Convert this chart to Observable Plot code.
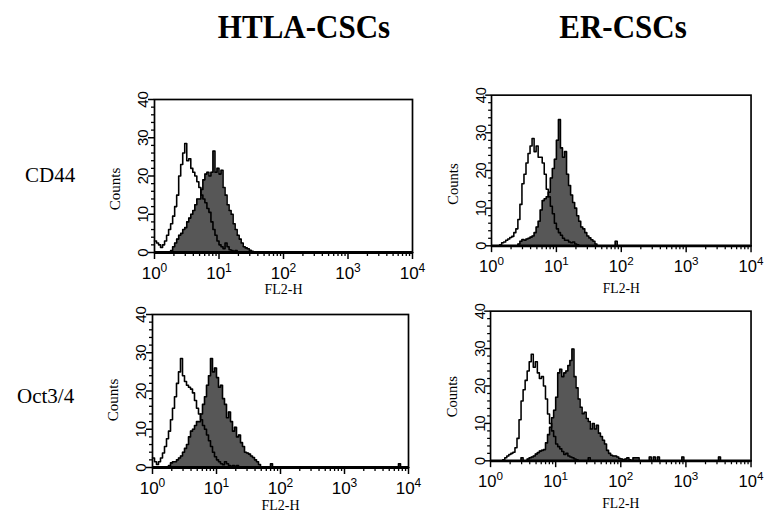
<!DOCTYPE html>
<html><head><meta charset="utf-8">
<script src="https://cdn.jsdelivr.net/npm/d3@7"></script>
<script src="https://cdn.jsdelivr.net/npm/@observablehq/plot@0.6"></script>
<style>
html,body{margin:0;padding:0;background:#fff;overflow:hidden;}
#page{position:relative;width:770px;height:518px;overflow:hidden;}
.title{position:absolute;font-family:"Liberation Serif","Times New Roman",serif;font-weight:bold;font-size:31px;line-height:1;color:#000;white-space:nowrap;transform:translateX(-50%) scaleY(1.12);transform-origin:50% 80%;}
.row{position:absolute;font-family:"Liberation Serif","Times New Roman",serif;font-size:21px;line-height:1;color:#000;white-space:nowrap;}
.panel{position:absolute;}
</style></head><body><div id="page"></div>
<script>
// ---- labels ----
const columnTitles = ["HTLA-CSCs", "ER-CSCs"];
const rowLabels = ["CD44", "Oct3/4"];
const xAxisTitle = "FL2-H";
const yAxisTitle = "Counts";
const countTicks = [0, 10, 20, 30, 40];
const countMinorTicks = [2, 4, 6, 8, 12, 14, 16, 18, 22, 24, 26, 28, 32, 34, 36, 38];
const decadeTicks = [1, 10, 100, 1000, 10000];
const decadeMultipliers = [2, 3, 4, 5, 6, 7, 8, 9];
const binsPerDecade = 32; // histogram channels per decade of FL2-H (4-decade log scale)

// ---- histogram counts (first channel index, counts per channel) ----
// CD44, HTLA-CSCs
const cd44HtlaControlStart = 0;
const cd44HtlaControl = [3,2.5,2,1.3,2,3,4.5,6,7.5,9.5,12,15,20,23,26,28.5,24,24.5,22,21,20,18.5,17,15,14,13,11.5,10.5,8,6,4.5,3,2,1.5,1,2.5,1.5,0.7,0.5,0.3,0.5,0];
const cd44HtlaStainedStart = 8;
const cd44HtlaStained = [0.5,1.5,2.5,3.5,4.5,5,6,6.5,8,9,10,11,12.5,14,14,16.5,19,20.5,21,20,21,26.5,21,22,20.5,21.5,17,15,12.5,11,10,7.5,6,4.5,3.5,2.5,1.5,1.2,1,0.6,0.3,0];
// CD44, ER-CSCs
const cd44ErControlStart = 4;
const cd44ErControl = [0.3,0.8,1,1.5,1.8,2.2,2.5,3.5,4.5,7,11,16.5,19,22,24.5,26.5,28.5,25,26.5,23.5,23.5,22,19,15,13,10.5,8.5,6,4.5,3.5,2.8,2,1.5,1.5,1,0.8,1,0.5,0.3,0];
const cd44ErStainedStart = 13;
const cd44ErStained = [0.5,1.2,1.7,1.5,1.8,2,2.3,2.6,3.5,5,6.5,9.5,12,12.5,13,14.2,18,20.5,23,28,33.5,26,23.5,25,19,16,13.5,11.5,10,8,6.5,5,4.5,3.5,2.6,2.1,1.6,1.2,0.5,0];
const cd44ErStainedEvents = [[61, 1.2]];
// Oct3/4, HTLA-CSCs
const octHtlaControlStart = 0;
const octHtlaControl = [2.5,1.5,0.8,1.5,2.5,3.8,5.5,7.5,9.5,12.5,15.5,18.5,22,25,28.5,24,22.5,21.5,21,20.5,19.5,17.5,15.5,14,12.5,11,10,8.5,7,5.5,4,2.8,2,1.5,1,0.7,1.5,1,0.5,0.3,0.5,0.3,0.5,0];
const octHtlaStainedStart = 8;
const octHtlaStained = [0.5,1.2,1.5,1.5,2,2.5,3,4,5,6,8,9.5,10,11,12,12,14,16.5,18.5,21.5,24,28.5,25,26,23.5,21,21.5,18,16.5,13,14.5,12,9.5,10.5,8,8.5,6.5,5.5,4,3.8,3.5,3,2.6,2,1.5,0.8,0];
const octHtlaStainedEvents = [[59, 1], [123, 1]];
// Oct3/4, ER-CSCs
const octErControlStart = 6;
const octErControl = [0.3,0.8,1.3,1.7,2,2.3,3.5,6,11,16,19,21.5,24,26.5,28.5,25,26.5,23.5,22,22.5,20,16.5,12.5,10,8,6.5,4.5,3.8,3.2,2.5,1.7,2,1.3,1,0.8,0.5,0.3,0];
const octErControlEvents = [[48, 0.8]];
const octErStainedStart = 18;
const octErStained = [0.5,0.8,1,1.3,1.8,2.2,2.6,2.8,3,4.8,7,9,11.5,13.5,17,23.5,24.5,22.5,23.5,24,25.5,26.8,29.9,22.5,19.5,16.5,14.3,12.6,13,11.3,10.5,8.5,10,8.5,9.5,7.4,6.5,5.5,4.5,2.8,2,1.5,1.3,1.3,1,0.6,0.5,0.3,0.5,0.8,0.3,0,0.8,0.8,0.8,0];
const octErStainedEvents = [[15, 0.8], [78, 1], [80, 1], [82, 1], [94, 1], [112, 1]];

// ---- layout ----
const panels = [
  {row: 0, col: 0, frame: {l: 154, r: 412, t: 99, b: 252}, countsDy: 13, xTitleDy: 37,
   control: [cd44HtlaControlStart, cd44HtlaControl, []], stained: [cd44HtlaStainedStart, cd44HtlaStained, []]},
  {row: 0, col: 1, frame: {l: 493, r: 760, t: 95, b: 250}, countsDy: 14, xTitleDy: 44,
   control: [cd44ErControlStart, cd44ErControl, []], stained: [cd44ErStainedStart, cd44ErStained, cd44ErStainedEvents]},
  {row: 1, col: 0, frame: {l: 152, r: 408, t: 314, b: 467}, countsDy: 9, xTitleDy: 38,
   control: [octHtlaControlStart, octHtlaControl, []], stained: [octHtlaStainedStart, octHtlaStained, octHtlaStainedEvents]},
  {row: 1, col: 1, frame: {l: 492, r: 760, t: 311, b: 465}, countsDy: 11, xTitleDy: 44,
   control: [octErControlStart, octErControl, octErControlEvents], stained: [octErStainedStart, octErStained, octErStainedEvents]}
];
const titleCenters = [304, 623];
const rowLabelPos = [{left: 25, top: 165}, {left: 17, top: 386}];

const page = document.getElementById("page");
columnTitles.forEach((t, i) => {
  const d = document.createElement("div");
  d.className = "title"; d.textContent = t;
  d.style.left = titleCenters[i] + "px"; d.style.top = "12px";
  page.appendChild(d);
});
rowLabels.forEach((t, i) => {
  const d = document.createElement("div");
  d.className = "row"; d.textContent = t;
  d.style.left = rowLabelPos[i].left + "px"; d.style.top = rowLabelPos[i].top + "px";
  page.appendChild(d);
});

const totalBins = 4 * binsPerDecade;
function histogram([start, counts, events]) {
  const dense = new Array(totalBins + 1).fill(0);
  counts.forEach((c, i) => { dense[start + i] = c; });
  events.forEach(([b, c]) => { dense[b] = c; });
  return dense.map((c, b) => ({fl2: Math.pow(10, b / binsPerDecade), count: c}));
}
const minorDecadeTicks = decadeTicks.slice(0, -1).flatMap(d => decadeMultipliers.map(m => m * d));

const sans = "'Liberation Sans', Arial, Helvetica, sans-serif";
const serif = "'Liberation Serif', 'Times New Roman', serif";
const mL = 70, mR = 20, mT = 12, mB = 55;

panels.forEach(p => {
  const f = p.frame;
  const control = histogram(p.control);
  const stained = histogram(p.stained);
  const chart = Plot.plot({
    width: (f.r - f.l) + mL + mR,
    height: (f.b - f.t) + mT + mB,
    marginLeft: mL, marginRight: mR, marginTop: mT, marginBottom: mB,
    x: {type: "log", domain: [1, 10000]},
    y: {domain: [0, 40]},
    style: {fontFamily: sans, background: "transparent", overflow: "visible", color: "#000"},
    marks: [
      Plot.areaY(stained, {x: "fl2", y: "count", curve: "step-after", fill: "#575757"}),
      Plot.lineY(stained, {x: "fl2", y: "count", curve: "step-after", stroke: "#000", strokeWidth: 1.6}),
      Plot.lineY(control, {x: "fl2", y: "count", curve: "step-after", stroke: "#000", strokeWidth: 1.6}),
      Plot.frame({stroke: "#000", strokeWidth: 1.7}),
      Plot.ruleY([0], {stroke: "#000", strokeWidth: 2.8}),
      Plot.axisX(decadeTicks, {tickSize: 7, strokeWidth: 1.5, tickFormat: () => "", label: null}),
      Plot.axisX(minorDecadeTicks, {tickSize: 4, strokeWidth: 1.3, tickFormat: () => "", label: null}),
      Plot.axisY(countTicks, {tickSize: 6, strokeWidth: 1.5, tickFormat: () => "", label: null}),
      Plot.axisY(countMinorTicks, {tickSize: 3, strokeWidth: 1.3, tickFormat: () => "", label: null}),
      Plot.text(decadeTicks, {x: d => d, frameAnchor: "bottom", dy: 21, text: d => "10^" + Math.round(Math.log10(d)),
        fontSize: 17, fontFamily: sans, lineAnchor: "middle", textAnchor: "middle"}),
      Plot.text(countTicks, {y: d => d, frameAnchor: "left", dx: -11, rotate: -90, text: d => String(d),
        fontSize: 15, fontFamily: sans, lineAnchor: "middle", textAnchor: "middle"}),
      Plot.text([yAxisTitle], {frameAnchor: "left", dx: -39, dy: p.countsDy, rotate: -90, text: d => d,
        fontSize: 15, fontFamily: serif, lineAnchor: "middle", textAnchor: "middle"}),
      Plot.text([xAxisTitle], {frameAnchor: "bottom", dy: p.xTitleDy, text: d => d,
        fontSize: 14, fontFamily: serif, lineAnchor: "middle", textAnchor: "middle"})
    ]
  });
  // superscript exponents on the decade labels
  chart.querySelectorAll("text").forEach(t => {
    const m = /^10\^(\d)$/.exec(t.textContent);
    if (m) {
      t.textContent = "10";
      const ts = document.createElementNS("http://www.w3.org/2000/svg", "tspan");
      ts.setAttribute("dy", "-7");
      ts.setAttribute("font-size", "12");
      ts.textContent = m[1];
      t.appendChild(ts);
    }
  });
  const wrap = document.createElement("div");
  wrap.className = "panel";
  wrap.style.left = (f.l - mL) + "px";
  wrap.style.top = (f.t - mT) + "px";
  wrap.appendChild(chart);
  page.appendChild(wrap);
});
</script>
</body></html>
